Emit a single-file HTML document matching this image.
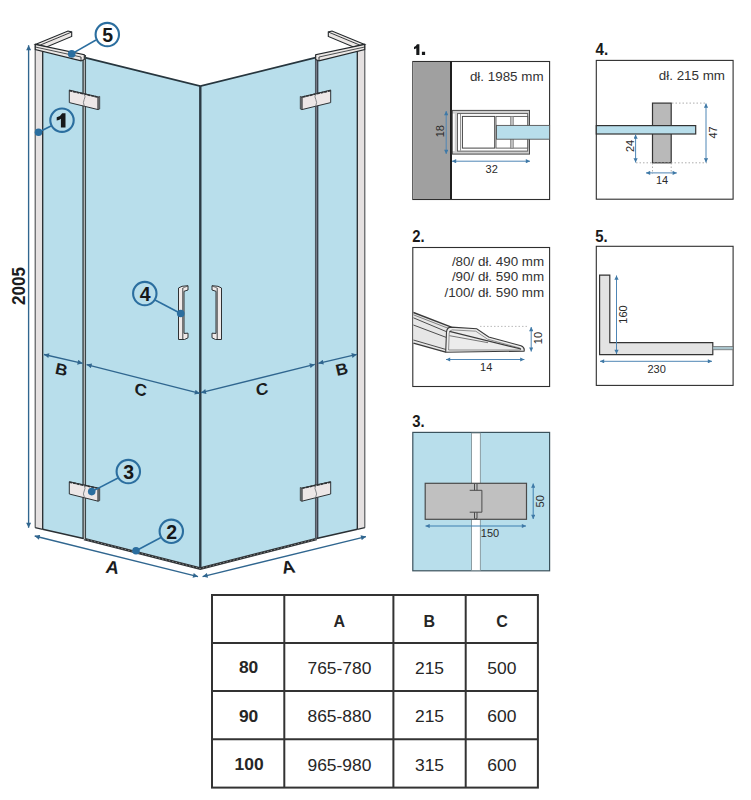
<!DOCTYPE html>
<html><head><meta charset="utf-8">
<style>
html,body{margin:0;padding:0;background:#fff;width:751px;height:800px;overflow:hidden}
svg{display:block}
text{font-family:"Liberation Sans",sans-serif}
</style></head>
<body>
<svg width="751" height="800" viewBox="0 0 751 800">
<defs>
<marker id="ah" viewBox="0 0 10 10" refX="10" refY="5" markerWidth="9" markerHeight="5" markerUnits="userSpaceOnUse" orient="auto-start-reverse">
<path d="M0,0 L10,5 L0,10 z" fill="#30668f"/>
</marker>
<marker id="ahs" viewBox="0 0 10 10" refX="10" refY="5" markerWidth="7" markerHeight="4.2" markerUnits="userSpaceOnUse" orient="auto-start-reverse">
<path d="M0,0 L10,5 L0,10 z" fill="#3f79a6"/>
</marker>
</defs>
<rect width="751" height="800" fill="#fff"/>

<!-- ================= MAIN DRAWING ================= -->
<g id="main">
<!-- glass -->
<polygon points="42.6,50 84,57 84,539 42.6,529.3" fill="#b8deeb"/>
<polygon points="84,57.5 200.3,86.2 200.3,568.6 84,539" fill="#b8deeb"/>
<polygon points="200.3,86.2 316.6,57.5 316.6,539 200.3,568.6" fill="#b8deeb"/>
<polygon points="316.6,57 357.4,50 357.4,529.3 316.6,539" fill="#b8deeb"/>

<!-- top glass edges -->
<polyline points="84,57.4 200.3,86.2 316.6,57.4" fill="none" stroke="#27363e" stroke-width="1.7"/>
<!-- center line -->
<line x1="200.3" y1="86" x2="200.3" y2="569" stroke="#2b3a44" stroke-width="2.4"/>

<!-- bottom door profiles -->
<polyline points="84,539 200.3,568.6 316.6,539" fill="none" stroke="#2d3134" stroke-width="2.6"/>
<polyline points="84,539 200.3,568.6 316.6,539" fill="none" stroke="#9a9a9a" stroke-width="0.8" stroke-dasharray="1.5,2"/>

<!-- hinge double lines -->
<rect x="83" y="55" width="2.4" height="484" fill="#c4c8c8"/>
<line x1="83.05" y1="55" x2="83.05" y2="539" stroke="#2f3a3c" stroke-width="1.3"/>
<line x1="85.45" y1="55" x2="85.45" y2="539.5" stroke="#3a4548" stroke-width="1.2"/>
<rect x="315" y="55" width="3.2" height="484" fill="#7a7a88"/>
<line x1="315.5" y1="55" x2="315.5" y2="539.5" stroke="#4c5860" stroke-width="1.1"/>
<line x1="317.7" y1="55" x2="317.7" y2="539" stroke="#303b45" stroke-width="1.1"/>
<g id="halfL">
<!-- fixed panel bottom -->
<line x1="42.6" y1="529.3" x2="83.5" y2="538.6" stroke="#2a2f33" stroke-width="1.5"/>
<!-- wall profile -->
<rect x="35.2" y="44.4" width="7.5" height="484" fill="#e5e1e1"/>
<line x1="35.2" y1="44.4" x2="35.2" y2="527.7" stroke="#4a4e51" stroke-width="1.1"/>
<line x1="42.7" y1="48" x2="42.7" y2="529.3" stroke="#23292d" stroke-width="1.3"/>
<line x1="35.2" y1="527.7" x2="42.7" y2="529.3" stroke="#2a2f33" stroke-width="1.2"/>
<!-- top L profile -->
<polygon points="35.3,44.4 68,31 71.7,32 71.7,36.5 46.6,46.9" fill="#ece8e6" stroke="#22272a" stroke-width="1.1"/>
<line x1="71.7" y1="32" x2="40" y2="45.2" stroke="#22272a" stroke-width="0.9"/>
<polygon points="35.3,44.4 84.3,54.8 84.3,59.5 81,60.9 35.3,49.6" fill="#ece8e6" stroke="#22272a" stroke-width="1.1"/>
<line x1="35.3" y1="47" x2="81" y2="57" stroke="#22272a" stroke-width="0.8"/>
<line x1="81" y1="57" x2="81" y2="60.9" stroke="#22272a" stroke-width="0.9"/>
<!-- hinge brackets -->
<g stroke="#2e3235">
<polygon points="69.3,90.1 98.1,97 98.1,109.6 69.3,102.6" fill="#ede7e7" stroke-width="1"/>
<polygon points="98.1,97 99.7,96.4 99.7,109 98.1,109.6" fill="#9a9a9a" stroke-width="0.8"/>
<line x1="69.3" y1="90.6" x2="98.5" y2="97.3" stroke-width="1.6" stroke-dasharray="3,0.7"/>
<path d="M84,93.5 Q86,97 84.2,99.5 Q82.5,102 84.4,106.5" fill="none" stroke="#6a6e71" stroke-width="0.8"/>
<polygon points="69.3,481.7 98.1,488.1 98.1,501.2 69.3,494" fill="#ede7e7" stroke-width="1"/>
<polygon points="98.1,488.1 99.7,487.5 99.7,500.6 98.1,501.2" fill="#9a9a9a" stroke-width="0.8"/>
<line x1="69.3" y1="482.2" x2="98.5" y2="488.4" stroke-width="1.6" stroke-dasharray="3,0.7"/>
<path d="M84,485 Q86,488.5 84.2,491 Q82.5,493.5 84.4,497.5" fill="none" stroke="#6a6e71" stroke-width="0.8"/>
</g>
</g>
<use href="#halfL" transform="matrix(-1,0,0,1,400,0)"/>

<!-- handles -->
<g id="hdl" fill="#efe9e8" stroke="#2e3235" stroke-width="1">
<polygon points="178.5,288 182,286.3 188,285.7 188,290 184,291.3 184,333.4 188,333.2 188,337.8 184.5,339.5 178.5,339.5"/>
<line x1="182.8" y1="288" x2="182.8" y2="339.5" stroke-width="0.9"/>
<line x1="182.8" y1="288" x2="188" y2="286" stroke-width="0.6"/>
</g>
<use href="#hdl" transform="matrix(-1,0,0,1,400,0)"/>

<!-- dimension arrows -->
<g stroke="#30668f" stroke-width="1.35" fill="none">
<line x1="28.6" y1="45.2" x2="28.6" y2="527.7" marker-start="url(#ah)" marker-end="url(#ah)"/>
<line x1="34.7" y1="536" x2="198" y2="576.6" marker-start="url(#ah)" marker-end="url(#ah)"/>
<line x1="202.6" y1="576.6" x2="366" y2="536.6" marker-start="url(#ah)" marker-end="url(#ah)"/>
<line x1="44" y1="354.5" x2="82.6" y2="363.3" marker-start="url(#ah)" marker-end="url(#ah)"/>
<line x1="86.6" y1="364.6" x2="199.8" y2="393.4" marker-start="url(#ah)" marker-end="url(#ah)"/>
<line x1="201" y1="392.7" x2="314.8" y2="364.4" marker-start="url(#ah)" marker-end="url(#ah)"/>
<line x1="318.4" y1="363.3" x2="356.8" y2="354.4" marker-start="url(#ah)" marker-end="url(#ah)"/>
</g>

<!-- dimension labels -->
<g font-weight="bold" fill="#1a1c1e">
<text x="0" y="0" font-size="19" transform="translate(25.3,286) rotate(-90)" text-anchor="middle" textLength="38" lengthAdjust="spacingAndGlyphs">2005</text>
<text x="0" y="6" font-size="16.5" font-style="italic" text-anchor="middle" transform="translate(61.2,369) skewY(13)">B</text>
<text x="0" y="6" font-size="17" text-anchor="middle" transform="translate(140.8,389.5) skewY(13) skewX(-6)">C</text>
<text x="0" y="6" font-size="17" text-anchor="middle" transform="translate(261.9,389) skewY(-13) skewX(6)">C</text>
<text x="0" y="6" font-size="16.5" text-anchor="middle" transform="translate(341.6,369) skewY(-13) skewX(12)">B</text>
<text x="0" y="6.5" font-size="18" font-style="italic" text-anchor="middle" transform="translate(112.3,567) skewY(6)">A</text>
<text x="0" y="6.5" font-size="18" text-anchor="middle" transform="translate(288.2,566.8) skewY(-6) skewX(12)">A</text>
</g>

<!-- callouts -->
<g stroke="#2b6e9f" fill="none">
<circle cx="62" cy="120.2" r="11.7" stroke-width="2.1"/>
<circle cx="171.3" cy="531.3" r="11.7" stroke-width="2.1"/>
<circle cx="128.3" cy="471.6" r="11.7" stroke-width="2.1"/>
<circle cx="144.8" cy="293.6" r="11.7" stroke-width="2.1"/>
<circle cx="107.3" cy="34.6" r="11.7" stroke-width="2.1"/>
<line x1="38.5" y1="132.3" x2="51" y2="126" stroke-width="1.6"/>
<line x1="136" y1="550.7" x2="161" y2="537.5" stroke-width="1.6"/>
<line x1="91.7" y1="491.6" x2="118" y2="478" stroke-width="1.6"/>
<line x1="180.7" y1="313.5" x2="155" y2="300" stroke-width="1.6"/>
<line x1="71.7" y1="53.9" x2="96" y2="40" stroke-width="1.6"/>
</g>
<g fill="#2b6e9f">
<circle cx="38.5" cy="132.3" r="3.8"/>
<circle cx="136" cy="550.7" r="3.8"/>
<circle cx="91.7" cy="491.6" r="3.8"/>
<circle cx="180.7" cy="313.5" r="3.8"/>
<circle cx="71.7" cy="53.9" r="3.8"/>
</g>
<g font-weight="bold" fill="#161819" font-size="19.5" text-anchor="middle">
<text x="171.6" y="538.5">2</text>
<text x="128.6" y="478.8">3</text>
<text x="145.1" y="300.8">4</text>
<text x="107.6" y="42.1">5</text>
</g>
</g>

<!-- ================= DETAIL PANELS ================= -->
<g id="details">
<path d="M60.9,127.6 L65.5,127.6 L65.5,113.2 L62.2,113.2 Q60.8,116.2 56.7,117.3 L56.7,120.6 Q59.2,120.1 60.9,118.7 Z" fill="#161819"/>
<path d="M416.3,55 L419.4,55 L419.4,44.2 L417,44.2 Q416,46.2 414,46.9 L414,49.3 Q415.5,48.9 416.3,48.2 Z M421.9,51.7 L425.1,51.7 L425.1,55 L421.9,55 Z" fill="#161819"/>
<g font-weight="bold" fill="#1a1a1a" font-size="16">
<text x="595.6" y="55" transform="translate(595.6,0) scale(0.95,1) translate(-595.6,0)">4.</text>
<text x="412.2" y="241.9" transform="translate(412.2,0) scale(0.93,1) translate(-412.2,0)">2.</text>
<text x="595.2" y="241.7" transform="translate(595.2,0) scale(0.93,1) translate(-595.2,0)">5.</text>
<text x="412.2" y="426.8" transform="translate(412.2,0) scale(0.93,1) translate(-412.2,0)">3.</text>
</g>

<!-- panel 1 -->
<rect x="412.8" y="61.5" width="136.8" height="138" fill="#fff" stroke="#2e2e2e" stroke-width="1.1"/>
<rect x="413.3" y="62" width="37.3" height="137" fill="#a0a0a0"/>
<line x1="451" y1="61" x2="451" y2="199" stroke="#1f1f1f" stroke-width="2"/>
<text x="543.6" y="81.2" font-size="13.4" fill="#333" text-anchor="end">dł. 1985 mm</text>
<rect x="452.3" y="110.4" width="77.2" height="43.7" fill="#cfcfcf" stroke="#4a4a4a" stroke-width="1"/>
<rect x="457.5" y="113.6" width="70.2" height="37.5" fill="#fff" stroke="#555" stroke-width="0.9"/>
<rect x="452.9" y="113.6" width="1.8" height="37.5" fill="#fff"/>
<line x1="460.5" y1="114" x2="460.5" y2="150.6" stroke="#777" stroke-width="0.8"/>
<rect x="462.4" y="116.4" width="32.3" height="31.7" fill="#fff" stroke="#444" stroke-width="1"/>
<rect x="496" y="116.4" width="31.7" height="31.7" fill="#fff" stroke="#555" stroke-width="0.9"/>
<rect x="510.3" y="116.4" width="3" height="31.7" fill="#bdbdbd" stroke="#777" stroke-width="0.6"/>
<rect x="496.5" y="125.4" width="53.1" height="13.8" fill="#b8deeb" stroke="#555" stroke-width="0.9"/>
<g stroke="#4f86b5" stroke-width="1" fill="none">
<line x1="446.2" y1="111" x2="446.2" y2="154" marker-start="url(#ahs)" marker-end="url(#ahs)"/>
<line x1="452" y1="161.2" x2="530" y2="161.2" marker-start="url(#ahs)" marker-end="url(#ahs)"/>
</g>
<text x="0" y="0" font-size="11" fill="#2a2a2a" text-anchor="middle" transform="translate(444.4,131.2) rotate(-90)">18</text>
<text x="491.7" y="172.6" font-size="11" fill="#2a2a2a" text-anchor="middle">32</text>

<!-- panel 4 -->
<rect x="596.3" y="60.4" width="136.8" height="138.8" fill="#fff" stroke="#2e2e2e" stroke-width="1.1"/>
<text x="725" y="80.4" font-size="13.4" fill="#333" text-anchor="end">dł. 215 mm</text>
<rect x="652.5" y="103.1" width="18.7" height="59.7" fill="#b9b9b9" stroke="#333" stroke-width="1.2"/>
<rect x="596.3" y="125.6" width="99.4" height="8.4" fill="#b8deeb" stroke="#333" stroke-width="1.2"/>
<g stroke="#999" stroke-width="0.8" stroke-dasharray="1.5,2" fill="none">
<line x1="672" y1="103.1" x2="707" y2="103.1"/>
<line x1="636" y1="162.8" x2="707" y2="162.8"/>
<line x1="652.5" y1="163" x2="652.5" y2="174"/>
<line x1="671.2" y1="163" x2="671.2" y2="174"/>
</g>
<g stroke="#4f86b5" stroke-width="1" fill="none">
<line x1="706" y1="103.5" x2="706" y2="162.5" marker-start="url(#ahs)" marker-end="url(#ahs)"/>
<line x1="635.6" y1="134.5" x2="635.6" y2="162.5" marker-start="url(#ahs)" marker-end="url(#ahs)"/>
<line x1="646" y1="172.9" x2="676.8" y2="172.9" marker-start="url(#ahs)" marker-end="url(#ahs)"/>
</g>
<text x="0" y="0" font-size="11" fill="#2a2a2a" text-anchor="middle" transform="translate(717.3,132.4) rotate(-90)">47</text>
<text x="0" y="0" font-size="11" fill="#2a2a2a" text-anchor="middle" transform="translate(633.6,145.9) rotate(-90)">24</text>
<text x="662" y="183.6" font-size="11" fill="#2a2a2a" text-anchor="middle">14</text>

<!-- panel 2 -->
<rect x="412.8" y="247.5" width="136.8" height="139" fill="#fff" stroke="#2e2e2e" stroke-width="1.1"/>
<g font-size="13.4" fill="#333" text-anchor="end">
<text x="544.2" y="265.9">/80/ dł. 490 mm</text>
<text x="544.2" y="281.2">/90/ dł. 590 mm</text>
<text x="544.2" y="296.7">/100/ dł. 590 mm</text>
</g>
<polygon points="413.4,312.5 451.4,327.1 446.5,331.9 445.7,352.2 413.4,343.2" fill="#e6e6e6"/>
<g stroke="#3a3a3a" fill="none">
<line x1="413.4" y1="312.5" x2="451.4" y2="327.1" stroke-width="1.4"/>
<line x1="413.4" y1="314.8" x2="450" y2="329" stroke-width="0.6"/>
<line x1="413.4" y1="317.8" x2="447" y2="331.9" stroke-width="0.9"/>
<line x1="413.4" y1="325" x2="446.5" y2="337.5" stroke-width="0.9"/>
<line x1="413.4" y1="340" x2="446" y2="349.5" stroke-width="0.9"/>
<line x1="413.4" y1="343.2" x2="445.7" y2="352.2" stroke-width="1.4"/>
</g>
<path d="M445.7,352.2 L446.5,331.9 Q447,327.1 451.4,327.1 L476.7,328.8 L488.7,337 L521,345.8 Q525,347.5 524.1,351.1 Z" fill="#ececec" stroke="#3a3a3a" stroke-width="1.1"/>
<path d="M448.6,350 L449.2,333 Q449.8,330 452.4,329.9 L475.8,331.2 L487.6,339.2 L519.6,348 Q521.5,349 520.5,350 Z" fill="none" stroke="#666" stroke-width="0.7"/>
<line x1="449.5" y1="331.3" x2="521" y2="349" stroke="#3a3a3a" stroke-width="1.2"/>
<line x1="449.5" y1="335.7" x2="488" y2="342.7" stroke="#555" stroke-width="0.8"/>
<line x1="480" y1="326.4" x2="529" y2="326.4" stroke="#aaa" stroke-width="0.8" stroke-dasharray="1.5,2"/>
<g stroke="#4f86b5" stroke-width="1" fill="none">
<line x1="531.2" y1="327" x2="531.2" y2="351.6" marker-start="url(#ahs)" marker-end="url(#ahs)"/>
<line x1="446" y1="359.5" x2="524.4" y2="359.5" marker-start="url(#ahs)" marker-end="url(#ahs)"/>
</g>
<text x="0" y="0" font-size="11" fill="#2a2a2a" text-anchor="middle" transform="translate(542.4,338) rotate(-90)">10</text>
<text x="486.2" y="371.4" font-size="11" fill="#2a2a2a" text-anchor="middle">14</text>

<!-- panel 5 -->
<rect x="596.3" y="246.3" width="136.8" height="139.1" fill="#fff" stroke="#2e2e2e" stroke-width="1.1"/>
<polygon points="599.6,275.1 609.8,275.1 609.8,342.6 712.8,342.6 712.8,354.6 599.6,354.6" fill="#e3e3e3" stroke="#333" stroke-width="1.2"/>
<rect x="712.8" y="346.5" width="20.3" height="3.3" fill="#a9c4cc" stroke="#666" stroke-width="0.7"/>
<g stroke="#4f86b5" stroke-width="1" fill="none">
<line x1="616.5" y1="275.5" x2="616.5" y2="354" marker-start="url(#ahs)" marker-end="url(#ahs)"/>
<line x1="600" y1="361.3" x2="712" y2="361.3" marker-start="url(#ahs)" marker-end="url(#ahs)"/>
</g>
<text x="0" y="0" font-size="11" fill="#2a2a2a" text-anchor="middle" transform="translate(627.3,314.5) rotate(-90)">160</text>
<text x="656.6" y="372.5" font-size="11" fill="#2a2a2a" text-anchor="middle">230</text>

<!-- panel 3 -->
<rect x="412.8" y="432.4" width="136.8" height="138.4" fill="#b8deeb" stroke="#3b525c" stroke-width="1.2"/>
<rect x="471.6" y="433" width="8.7" height="137.5" fill="#fff" stroke="#7a8a90" stroke-width="0.8"/>
<rect x="425.2" y="483.3" width="101.3" height="36" fill="#c0c0c0" stroke="#4a4a4a" stroke-width="1.2"/>
<path d="M474.5,483.8 L474.5,490.3 M477,483.8 L477,490.3 M469.7,490.3 L481.9,490.3 L481.9,512.2 L469.7,512.2 M474.5,512.2 L474.5,518.5 Q475.7,519.5 477,518.5 L477,512.2" fill="none" stroke="#4a4a4a" stroke-width="1"/>
<g stroke="#3d7fb0" stroke-width="1" fill="none">
<line x1="533.2" y1="483.5" x2="533.2" y2="519" marker-start="url(#ahs)" marker-end="url(#ahs)"/>
<line x1="425.5" y1="526" x2="526" y2="526" marker-start="url(#ahs)" marker-end="url(#ahs)"/>
</g>
<text x="0" y="0" font-size="11" fill="#2a2a2a" text-anchor="middle" transform="translate(544,501.3) rotate(-90)">50</text>
<text x="490" y="536.6" font-size="11" fill="#2a2a2a" text-anchor="middle">150</text>
</g>

<!-- ================= TABLE ================= -->
<g id="table" stroke="#333" stroke-width="2" fill="none">
<rect x="212" y="595" width="325.9" height="192.6"/>
<line x1="284.3" y1="595" x2="284.3" y2="787.6"/>
<line x1="393.4" y1="595" x2="393.4" y2="787.6"/>
<line x1="465.7" y1="595" x2="465.7" y2="787.6"/>
<line x1="212" y1="643" x2="537.9" y2="643"/>
<line x1="212" y1="691" x2="537.9" y2="691"/>
<line x1="212" y1="739.3" x2="537.9" y2="739.3"/>
</g>
<g fill="#262626" font-size="16" text-anchor="middle">
<text transform="translate(339.3,627) scale(1.0,1)" font-weight="bold">A</text>
<text transform="translate(429.3,627) scale(1.0,1)" font-weight="bold">B</text>
<text transform="translate(502,627) scale(1.0,1)" font-weight="bold">C</text>
<text transform="translate(248.6,673.4) scale(1.09,1)" font-weight="bold">80</text>
<text transform="translate(248.6,721.7) scale(1.09,1)" font-weight="bold">90</text>
<text transform="translate(249.1,770) scale(1.09,1)" font-weight="bold">100</text>
<text transform="translate(339.4,674.2) scale(1.09,1)">765-780</text>
<text transform="translate(339.4,722.4) scale(1.09,1)">865-880</text>
<text transform="translate(339.4,770.6) scale(1.09,1)">965-980</text>
<text transform="translate(429.5,674.2) scale(1.09,1)">215</text>
<text transform="translate(429.5,722.4) scale(1.09,1)">215</text>
<text transform="translate(429.5,770.6) scale(1.09,1)">315</text>
<text transform="translate(501.8,674.2) scale(1.09,1)">500</text>
<text transform="translate(501.8,722.4) scale(1.09,1)">600</text>
<text transform="translate(501.8,770.6) scale(1.09,1)">600</text>
</g>
</svg>
</body></html>
